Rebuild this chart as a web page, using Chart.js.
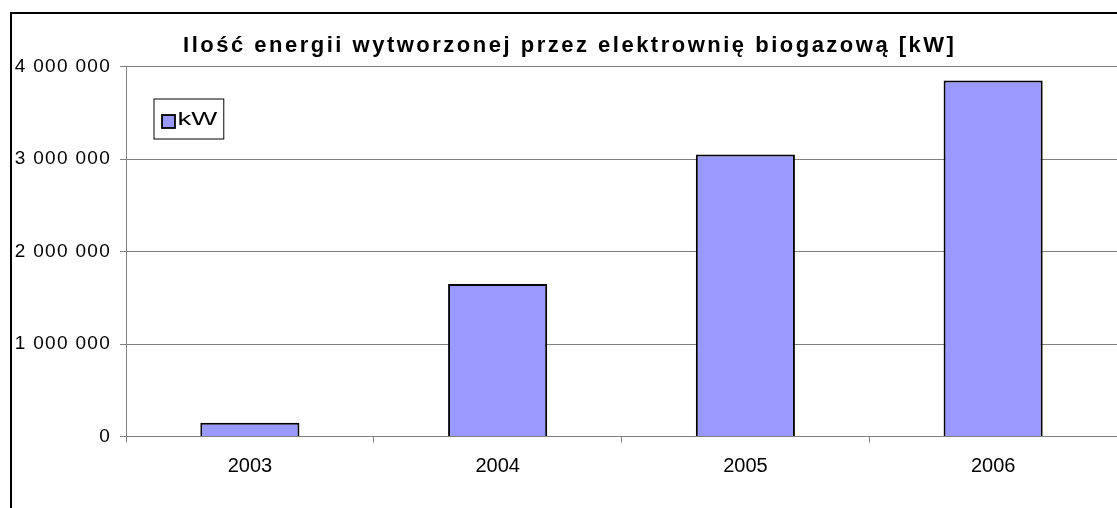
<!DOCTYPE html>
<html lang="pl">
<head>
    <meta charset="UTF-8">
    <title>Ilość energii - biogazownia</title>
    <style>
        html, body {
            margin: 0;
            padding: 0;
            background: #ffffff;
            overflow: hidden;
        }
        #frame {
            position: absolute;
            left: 10px;
            top: 12px;
            border-left: 2px solid #000;
            border-top: 2px solid #000;
        }
        canvas {
            display: block;
        }
    </style>
</head>
<body>
    <div id="frame">
        <canvas id="myChart" width="1105" height="494"></canvas>
    </div>
    <script src="https://cdn.jsdelivr.net/npm/chart.js"></script>
    <script>
        const chartTitle = 'Ilość energii wytworzonej przez elektrownię biogazową [kW]';
        const years = ['2003', '2004', '2005', '2006'];
        const seriesLabel = 'kW';
        const energyKW = [150000, 1650000, 3050000, 3850000];
        const yMin = 0;
        const yMax = 4000000;
        const yStep = 1000000;

        const FONT = 'Arial, "Liberation Sans", sans-serif';
        const barFill = '#9999ff';
        const gridGray = '#808080';

        // slightly spaced digits on the value axis, like the original
        const spacedLabels = {
            id: 'spacedLabels',
            beforeDraw(chart) {
                const s = chart.scales.y;
                if (s && !s._spaced) {
                    const orig = s.drawLabels;
                    s.drawLabels = function (area) {
                        chart.ctx.letterSpacing = '1.3px';
                        orig.call(this, area);
                        chart.ctx.letterSpacing = '0px';
                    };
                    s._spaced = true;
                }
            }
        };

        const titlePlugin = {
            id: 'spacedTitle',
            afterDraw(chart) {
                const ctx = chart.ctx;
                ctx.save();
                ctx.font = 'bold 22px ' + FONT;
                ctx.letterSpacing = '2.5px';
                ctx.fillStyle = '#000';
                ctx.textBaseline = 'alphabetic';
                const w = ctx.measureText(chartTitle).width - 2.5;
                ctx.fillText(chartTitle, chart.width / 2 - w / 2 + 4, chart.chartArea.top - 15);
                ctx.restore();
            }
        };

        const boxLegend = {
            id: 'boxLegend',
            afterDatasetsDraw(chart) {
                const ctx = chart.ctx;
                const ds = chart.data.datasets[0];
                const area = chart.chartArea;
                const stretch = 1.45;
                ctx.save();
                ctx.font = '19px ' + FONT;
                const tw = ctx.measureText(ds.label).width * stretch;
                const x = area.left + 27.5;
                const y = area.top + 32;
                const h = 40;
                const w = 8 + 13 + 3 + tw + 6;
                ctx.fillStyle = '#fff';
                ctx.fillRect(x, y, w, h);
                ctx.strokeStyle = '#000';
                ctx.lineWidth = 1;
                ctx.strokeRect(x + 0.5, y + 0.5, w, h);
                ctx.fillStyle = ds.backgroundColor;
                ctx.fillRect(x + 8.5, y + 16.5, 13, 13);
                ctx.lineWidth = 1.8;
                ctx.strokeRect(x + 8.5, y + 16.5, 13, 13);
                ctx.fillStyle = '#000';
                ctx.textBaseline = 'middle';
                ctx.translate(x + 24, y + 21);
                ctx.scale(stretch, 1);
                ctx.fillText(ds.label, 0, 0);
                ctx.restore();
            }
        };

        const ctx = document.getElementById('myChart').getContext('2d');
        new Chart(ctx, {
            type: 'bar',
            data: {
                labels: years,
                datasets: [{
                    label: seriesLabel,
                    data: energyKW,
                    backgroundColor: barFill,
                    borderColor: '#000',
                    borderWidth: 2,
                    barPercentage: 0.4,
                    categoryPercentage: 1.0
                }]
            },
            options: {
                responsive: false,
                animation: false,
                devicePixelRatio: 1,
                layout: {
                    padding: { top: 52.5, left: 0, right: 0, bottom: 0 }
                },
                plugins: {
                    legend: { display: false },
                    title: { display: false },
                    tooltip: { enabled: false }
                },
                scales: {
                    x: {
                        afterFit: (scale) => { scale.height = 71.5; },
                        grid: {
                            drawOnChartArea: false,
                            drawTicks: true,
                            tickLength: 6,
                            color: gridGray
                        },
                        border: { display: true, color: gridGray, width: 1 },
                        ticks: {
                            color: '#000',
                            padding: 12,
                            font: { family: FONT, size: 20 }
                        }
                    },
                    y: {
                        min: yMin,
                        max: yMax,
                        afterFit: (scale) => { scale.width = 114; },
                        grid: {
                            color: gridGray,
                            drawTicks: true,
                            tickLength: 6
                        },
                        border: { display: true, color: gridGray, width: 1 },
                        ticks: {
                            stepSize: yStep,
                            color: '#000',
                            padding: 9,
                            font: { family: FONT, size: 19 },
                            callback: (v) => String(v).replace(/\B(?=(\d{3})+(?!\d))/g, ' ')
                        }
                    }
                }
            },
            plugins: [spacedLabels, titlePlugin, boxLegend]
        });
    </script>
</body>
</html>
